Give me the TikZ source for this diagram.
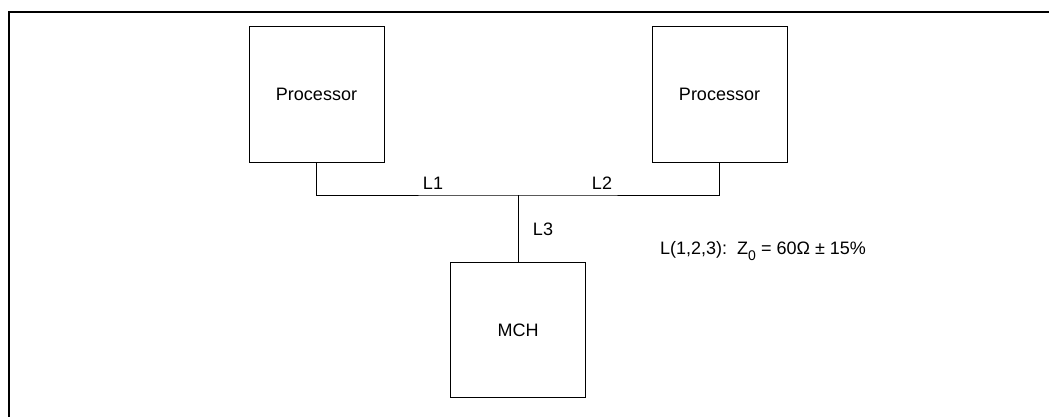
\documentclass[tikz,border=0pt]{standalone}
\usepackage{fontspec}
\setmainfont{Liberation Sans}
\begin{document}
\begin{tikzpicture}[x=1pt,y=-1pt,
  box/.style={draw,line width=1pt,minimum width=135pt,minimum height=135pt,inner sep=0pt,font=\fontsize{18}{20}\selectfont},
  wire/.style={line width=1pt},
  lbl/.style={inner sep=0pt,font=\fontsize{18}{20}\selectfont}]
\useasboundingbox (0,0) rectangle (1049,417);
\draw[line width=2.2pt] (9,418) -- (9,12) -- (1050,12);
\node[box] (p1) at (316.5,94.5) {Processor};
\node[box] (p2) at (719.5,94.5) {Processor};
\node[box] (mch) at (518,330) {MCH};
\coordinate (j) at (518,195);
\draw[wire] (p1.south) |- (j) -| (p2.south);
\draw[wire] (j) -- (mch.north);
\node[lbl] (l1) at (433,183) {L1};
\node[lbl] (l2) at (602,183) {L2};
\node[lbl] (l3) at (543,229) {L3};
\node[lbl,anchor=west] (eq) at (660,251) {L(1,2,3):\ \ Z\raisebox{-0.35em}{\fontsize{14}{14}\selectfont 0} = 60Ω ± 15\%};
\end{tikzpicture}
\end{document}
